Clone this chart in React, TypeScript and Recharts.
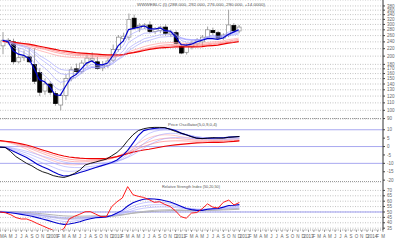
import React from "react";
import { ComposedChart, Bar, Line, XAxis, YAxis, CartesianGrid, ReferenceLine } from "recharts";

const monthLabels = ["M","A","M","J","J","A","S","O","N","D","2009","F","M","A","M","J","J","A","S","O","N","D","2010","F","M","A","M","J","J","A","S","O","N","D","2011","F","M","A","M","J","J","A","S","O","N","D","2012","F","M","A","M","J","J","A","S","O","N","D","2013","F","M","A","M","J","J","A","S","O","N","D","2014","F","M"];

const openP = [228,245,240,186,196,198,180,162,128,140,124,107,121,150,170,164,183,190,186,172,178,190,218,250,255,325,286,292,298,274,278,290,265,270,226,210,225,234,240,255,278,270,252,262,296,276];
const highP = [272,252,250,222,215,222,222,172,150,145,128,124,158,175,182,190,205,210,198,188,196,232,262,270,345,340,305,305,312,290,295,300,280,278,236,236,244,252,262,292,288,276,268,362,305,298];
const lowP = [205,232,180,182,188,183,140,120,122,122,106,100,114,145,158,160,176,185,168,165,172,185,212,240,245,280,272,282,268,265,268,260,255,232,205,204,218,228,228,250,262,248,246,255,270,268];
const closeP = [245,238,186,196,200,186,145,126,140,126,109,121,150,168,164,183,195,194,171,178,188,218,255,258,320,288,296,298,274,283,290,268,272,236,208,228,236,246,255,280,270,252,262,298,276,290];

const shortBold = [245,241,214,205,202,194,170,148,144,135,122,121,136,152,158,170,183,188,180,179,183,201,228,243,281,285,290,294,284,283,287,277,275,255,232,230,233,240,245,250,250,248,252,264,272,280];
const short1 = [245,243,224,215,210,202,183,164,156,146,134,129,136,147,153,163,174,180,177,178,181,193,214,229,259,269,278,285,281,282,285,279,277,263,245,239,238,241,246,257,261,258,260,272,274,279];
const short2 = [245,243,231,223,218,211,196,181,172,162,150,143,145,150,153,160,168,173,173,174,177,186,202,214,238,249,259,268,269,272,276,274,274,266,253,247,245,245,247,255,258,257,258,267,269,274];
const short3 = [245,244,235,229,225,219,207,195,186,177,167,160,158,160,160,164,169,173,172,173,176,182,193,203,221,232,241,250,254,258,263,264,265,261,253,249,247,247,248,253,255,255,256,263,265,269];
const short4 = [245,244,237,232,228,223,213,202,194,186,176,169,167,167,167,169,172,175,174,175,176,182,191,199,214,224,233,241,245,250,255,256,258,256,250,247,246,246,247,251,253,253,254,260,262,265];

const longBold = [242,241,239,237,235,233,230,227,224,221,218,215,213,211,209,208,207,206,205,204,203,203,203,204,207,209,212,215,218,220,222,223,224,225,225,225,225,225,226,228,229,230,233,236,238,241];
const long1 = [240,238,234,231,228,225,220,215,211,207,203,200,198,197,196,196,196,196,195,195,195,197,200,204,211,216,221,226,230,233,236,237,238,238,236,235,235,235,236,238,240,241,243,247,249,252];
const long2 = [241,240,237,235,232,229,225,221,218,214,210,207,205,203,202,201,201,200,199,199,198,199,200,202,207,211,215,219,223,226,229,231,232,233,232,231,231,231,232,234,236,237,239,242,245,248];
const long3 = [242,240,238,236,234,231,228,224,221,218,214,211,209,207,205,204,204,203,202,201,201,201,201,203,207,210,213,217,220,223,225,227,228,229,229,228,228,228,229,231,233,234,236,239,241,244];

const oscBlack = [-0.3,-0.5,-3,-6,-8,-10,-11.5,-13.5,-15,-16,-17.3,-18,-18.4,-17.5,-16,-14,-11,-10,-9.2,-8.3,-7.5,-5.5,-3.5,-0.5,3.5,7,9.5,10.6,11.2,11.4,11.4,11.3,10.2,9,8,7,5.8,5,4.7,5,5.3,5,5,5.5,5.7,6];
const oscBlue = [-0.4,-0.6,-2,-3.5,-5,-6.5,-8.5,-10.5,-12,-13.3,-15,-16.5,-17.5,-17.2,-16.5,-15.5,-14.5,-13.5,-12.5,-11.5,-10.5,-9.5,-8,-5.5,-2.3,2,6.5,9.5,10.3,10.8,11,11,10.5,9.5,8,7,6,5,4.8,4.9,5,5.2,5.2,5.6,5.8,6];
const oscL1 = [-0.3,-0.5,-1.5,-2.7,-4,-5.2,-6.8,-8.4,-9.8,-11,-12.3,-13.6,-14.5,-14.8,-14.6,-14.2,-13.6,-13,-12.3,-11.6,-10.8,-10,-8.8,-7,-4.5,-1.2,2.5,5.7,7.8,9,9.7,10,9.9,9.3,8.2,7.3,6.5,5.8,5.4,5.3,5.2,5.2,5.2,5.4,5.5,5.7];
const oscL2 = [-0.2,-0.4,-1,-1.9,-2.9,-3.9,-5.1,-6.4,-7.6,-8.7,-9.8,-10.9,-11.8,-12.3,-12.5,-12.5,-12.2,-11.9,-11.5,-11,-10.4,-9.8,-9,-7.8,-6,-3.7,-1,1.7,4,5.7,6.9,7.6,7.9,7.8,7.3,6.8,6.3,5.8,5.4,5.2,5,4.9,4.9,5,5.1,5.2];
const oscL3 = [-0.1,-0.3,-0.7,-1.3,-2,-2.8,-3.7,-4.7,-5.7,-6.6,-7.5,-8.4,-9.2,-9.8,-10.2,-10.4,-10.4,-10.3,-10.1,-9.8,-9.4,-9,-8.5,-7.7,-6.5,-4.9,-3,-1,0.9,2.5,3.8,4.7,5.2,5.4,5.3,5.1,4.9,4.7,4.5,4.4,4.3,4.3,4.3,4.4,4.5,4.6];
const oscRed = [3.5,3.2,2.8,2.3,1.6,0.9,0,-1,-2,-3,-4,-4.9,-5.6,-6.2,-6.6,-6.9,-7.1,-7.2,-7.2,-7.2,-7,-6.6,-6,-5.1,-4.2,-3.3,-2.6,-2.1,-1.6,-1,-0.4,0.2,0.6,1,1.3,1.6,1.9,2.2,2.3,2.4,2.5,2.5,2.6,2.9,3.1,3.4];
const oscP1 = [3.3,2.8,2,1,-0.2,-1.5,-3,-4.5,-6,-7.3,-8.5,-9.6,-10.4,-10.8,-10.9,-10.7,-10.3,-9.8,-9.2,-8.6,-8,-7.2,-6,-4.4,-2.4,-0.2,2,3.8,5.2,6.2,6.8,7,6.9,6.5,5.9,5.4,5,4.7,4.5,4.4,4.3,4.3,4.3,4.4,4.5,4.7];
const oscP2 = [3.4,3,2.4,1.6,0.6,-0.4,-1.6,-2.9,-4.1,-5.3,-6.4,-7.4,-8.2,-8.7,-9,-9.1,-9,-8.8,-8.5,-8.1,-7.6,-7,-6,-4.8,-3.3,-1.7,0,1.5,2.8,3.8,4.5,4.9,5,4.9,4.6,4.3,4.1,3.9,3.8,3.7,3.6,3.6,3.6,3.7,3.8,4];
const oscP3 = [3.5,3.1,2.6,2,1.1,0.2,-0.8,-2,-3,-4.1,-5.1,-6.1,-6.9,-7.5,-7.9,-8.1,-8.2,-8.1,-8,-7.8,-7.4,-6.9,-6,-5,-3.8,-2.5,-1.2,0,1.1,2,2.7,3.1,3.3,3.4,3.4,3.3,3.2,3.2,3.1,3.1,3.1,3.1,3.1,3.3,3.4,3.6];

const rsiRed = [50,49.3,47.5,44.8,43.5,43.5,41.7,39.3,37.2,35,33,31.7,34.5,43.5,46,48,50.2,50.3,48,45.7,45.7,55,59.5,63,73.5,66,64.5,63.5,61.5,59,59.5,57,55,51,45.7,44.2,49,49.5,53,57.5,54.5,53.7,59,61,56.5,58.8];
const rsiBlue = [50,49.8,49.3,48.6,47.8,47,46,44.8,43.5,42.2,40.8,39.4,38.5,38.8,39.8,41,42.5,43.8,44.6,45,45.3,46.8,49,51.5,55.5,58.5,60.5,61.8,62.3,62,61.5,60.5,59.2,57.5,55.3,53.2,52.2,51.5,51.5,52.5,53,53.2,54.5,56,56.2,56.8];
const rsiF1 = [50,49.9,49.5,49,48.4,47.8,47,46.1,45.1,44.1,43,41.9,41.2,41.2,41.7,42.5,43.5,44.4,45,45.4,45.7,46.8,48.4,50.3,53.3,55.6,57.3,58.5,59.2,59.3,59.2,58.7,57.9,56.8,55.3,53.9,53.1,52.5,52.4,52.8,53.1,53.2,54,55,55.3,55.8];
const rsiF2 = [50.2,50.1,49.8,49.4,48.9,48.4,47.8,47.1,46.3,45.5,44.7,43.9,43.3,43.1,43.3,43.7,44.3,44.9,45.3,45.6,45.8,46.6,47.8,49.2,51.4,53.2,54.6,55.7,56.4,56.7,56.8,56.6,56.1,55.4,54.4,53.5,52.9,52.5,52.4,52.6,52.8,52.9,53.4,54.1,54.4,54.8];
const rsiF3 = [50.3,50.2,50,49.7,49.3,48.9,48.4,47.8,47.2,46.6,46,45.3,44.8,44.6,44.6,44.8,45.1,45.5,45.7,45.9,46.1,46.6,47.4,48.4,50,51.4,52.6,53.5,54.1,54.5,54.7,54.7,54.5,54.1,53.5,52.9,52.5,52.2,52.1,52.2,52.4,52.5,52.8,53.3,53.6,53.9];
const rsiG1 = [50.5,50.3,50,49.6,49.1,48.6,48,47.4,46.7,46,45.3,44.6,44.2,44.1,44.2,44.4,44.7,45,45.2,45.3,45.4,45.8,46.4,47.1,48.1,49,49.8,50.5,51.1,51.5,51.8,52,52.1,52.1,51.9,51.6,51.5,51.4,51.5,51.7,51.9,52.1,52.4,52.8,53.1,53.4];
const rsiG2 = [50.6,50.5,50.3,50.1,49.8,49.5,49.1,48.7,48.3,47.8,47.3,46.8,46.4,46.2,46.1,46.1,46.2,46.3,46.4,46.5,46.6,46.8,47.2,47.6,48.2,48.8,49.3,49.8,50.2,50.6,50.9,51.1,51.3,51.4,51.4,51.3,51.3,51.3,51.3,51.4,51.5,51.7,51.9,52.1,52.3,52.5];

const priceTicks = [90,100,110,120,130,140,150,160,170,180,200,220,240,260,280,300,320,340,360,380];
const oscTicks = [-20,-15,-10,-5,0,5,10];
const rsiTicks = [35,40,45,50,55,60,65,70];

const rows = monthLabels.map((m, i) => ({
  i,
  o: openP[i], h: highP[i], l: lowP[i], c: closeP[i],
  hl: i < closeP.length ? [lowP[i], highP[i]] : null,
  sb: shortBold[i], s1: short1[i], s2: short2[i], s3: short3[i], s4: short4[i],
  lb: longBold[i], l1: long1[i], l2: long2[i], l3: long3[i],
  ob: oscBlack[i], obl: oscBlue[i], ol1: oscL1[i], ol2: oscL2[i], ol3: oscL3[i],
  or: oscRed[i], op1: oscP1[i], op2: oscP2[i], op3: oscP3[i],
  rr: rsiRed[i], rb: rsiBlue[i], rf1: rsiF1[i], rf2: rsiF2[i], rf3: rsiF3[i], rg1: rsiG1[i], rg2: rsiG2[i],
}));

const FONT = "Liberation Sans, Arial, sans-serif";
const tickStyle = { fontSize: 4.5, fill: "#666", fontFamily: FONT };

const MonthTick = (props: any) => {
  const { x, y, payload } = props;
  const label = monthLabels[payload.value] ?? "";
  const isYear = label.length > 1;
  const w = isYear ? 9 : 2.5;
  const cx = Math.max(x, w / 2 + 0.5);
  return (
    <text x={cx} y={y + 4} textAnchor="middle" fontSize={4.5} fill="#666" fontFamily={FONT}>
      {label}
    </text>
  );
};

const Candle = (props: any) => {
  const { x, y, width, height, payload } = props;
  if (!payload || payload.o == null || height == null) return null;
  const { o, h, l, c } = payload;
  const lh = Math.log(h), ll = Math.log(l);
  const py = (v: number) => y + (height * (lh - Math.log(v))) / (lh - ll);
  const cx = x + width / 2;
  const top = py(Math.max(o, c));
  const bot = py(Math.min(o, c));
  const up = c >= o;
  return (
    <g>
      <line x1={cx} x2={cx} y1={y} y2={y + height} stroke="#8a8a8a" strokeWidth={0.8} />
      <rect x={x} y={top} width={width} height={Math.max(0.8, bot - top)} fill={up ? "#ffffff" : "#000000"} stroke={up ? "#8a8a8a" : "#000000"} strokeWidth={0.7} />
    </g>
  );
};

const ln = (key: string, color: string, w: number, op = 1) => (
  <Line key={key} dataKey={key} stroke={color} strokeWidth={w} strokeOpacity={op} dot={false} activeDot={false} isAnimationActive={false} type="linear" />
);

const xAxisHidden = <XAxis dataKey="i" type="category" hide interval={0} />;

export default function App() {
  return (
    <div style={{ position: "absolute", left: 0, top: 0, width: 400, height: 241, background: "#fff", overflow: "hidden" }}>
      <div style={{ position: "absolute", left: 0, top: 119 }}>
        <ComposedChart width={400} height={63} data={rows} margin={{ top: 0, right: 0, bottom: 0, left: 0 }}>
          {xAxisHidden}
          <YAxis orientation="right" width={17} type="number" domain={[-21.1, 16.4]} allowDataOverflow ticks={oscTicks} interval={0} tick={tickStyle} tickSize={2} tickLine={{ stroke: "#444" }} axisLine={{ stroke: "#333" }} />
          <ReferenceLine y={10} stroke="#a8a8f0" strokeWidth={1} />
          <ReferenceLine y={0} stroke="#a8a8f0" strokeWidth={1} />
          <ReferenceLine y={-10} stroke="#a8a8f0" strokeWidth={1} />
          {ln("op1", "#ffa4a4", 0.6)}
          {ln("op2", "#ff8c8c", 0.6)}
          {ln("op3", "#ff7474", 0.6)}
          {ln("or", "#ee0000", 1.1)}
          {ln("ol3", "#a4a4ff", 0.6)}
          {ln("ol2", "#a4a4ff", 0.6)}
          {ln("ol1", "#a4a4ff", 0.6)}
          {ln("obl", "#0000cc", 1.1)}
          {ln("ob", "#000000", 0.9)}
        </ComposedChart>
      </div>
      <div style={{ position: "absolute", left: 0, top: 0 }}>
        <ComposedChart width={400} height={122} data={rows} margin={{ top: 0, right: 0, bottom: 3, left: 0 }}>
          <CartesianGrid vertical={false} stroke="#c4c4c4" strokeDasharray="1 1.5" />
          {xAxisHidden}
          <YAxis orientation="right" width={17} scale="log" type="number" domain={[89.5, 410]} allowDataOverflow ticks={priceTicks} interval={0} tick={tickStyle} tickSize={2} tickLine={{ stroke: "#444" }} axisLine={{ stroke: "#333" }} />
          <Bar dataKey="hl" barSize={4} shape={Candle} isAnimationActive={false} />
          {ln("l1", "#ffa4a4", 0.7)}
          {ln("l2", "#ff8c8c", 0.7)}
          {ln("l3", "#ff7474", 0.7)}
          {ln("lb", "#ee0000", 1.2)}
          {ln("s4", "#a0a0ff", 0.6)}
          {ln("s3", "#a0a0ff", 0.6)}
          {ln("s2", "#a0a0ff", 0.6)}
          {ln("s1", "#a0a0ff", 0.6)}
          {ln("sb", "#0000cc", 1.2)}
        </ComposedChart>
      </div>
      <div style={{ position: "absolute", left: 0, top: 182 }}>
        <ComposedChart width={400} height={59} data={rows} margin={{ top: 0, right: 0, bottom: 0, left: 0 }}>
          <CartesianGrid vertical={false} stroke="#c4c4c4" strokeDasharray="1 1.5" />
          <XAxis dataKey="i" type="category" interval={0} height={11} tick={<MonthTick />} tickSize={2} tickLine={{ stroke: "#999" }} axisLine={{ stroke: "#bbb", strokeDasharray: "1 1" }} minTickGap={0} />
          <YAxis orientation="right" width={17} type="number" domain={[33.3, 77.8]} allowDataOverflow ticks={rsiTicks} interval={0} tick={tickStyle} tickSize={2} tickLine={{ stroke: "#444" }} axisLine={{ stroke: "#333" }} />
          <ReferenceLine y={50} stroke="#9c9cf0" strokeWidth={1} />
          {ln("rg2", "#aaaaaa", 0.9)}
          {ln("rg1", "#b4b4b4", 0.9)}
          {ln("rf3", "#a4a4ff", 0.6)}
          {ln("rf2", "#a4a4ff", 0.6)}
          {ln("rf1", "#a4a4ff", 0.6)}
          {ln("rb", "#0000cc", 1.1)}
          {ln("rr", "#ff0000", 0.9)}
        </ComposedChart>
      </div>
      <svg width={400} height={241} style={{ position: "absolute", left: 0, top: 0, pointerEvents: "none" }}>
        <line x1={0} x2={383} y1={118.5} y2={118.5} stroke="#9a9a9a" strokeDasharray="1 1" strokeWidth={1} />
        <line x1={0} x2={383} y1={181.5} y2={181.5} stroke="#9a9a9a" strokeDasharray="1 1" strokeWidth={1} />
        <text x={137} y={5.5} fontSize={4.4} fill="#555" fontFamily={FONT} textLength={128} lengthAdjust="spacingAndGlyphs">WWWEBLC (I) (288.000, 292.000, 276.000, 290.000, +14.0000)</text>
        <text x={168} y={125.5} fontSize={4.4} fill="#555" fontFamily={FONT} textLength={49} lengthAdjust="spacingAndGlyphs">Price Oscillator(5,0,9,0,4)</text>
        <text x={162} y={187.5} fontSize={4.4} fill="#555" fontFamily={FONT} textLength={58} lengthAdjust="spacingAndGlyphs">Relative Strength Index (50,20,50)</text>
      </svg>
    </div>
  );
}
